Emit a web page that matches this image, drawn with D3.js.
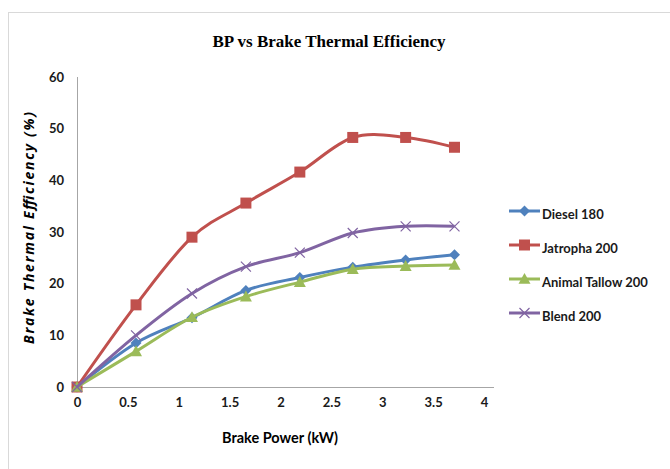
<!DOCTYPE html>
<html>
<head>
<meta charset="utf-8">
<script src="https://cdn.jsdelivr.net/npm/d3@7"></script>
<style>
  body { margin: 0; background: #fff; }
  svg { display: block; }
</style>
</head>
<body>
<script>
// chart data
var brakePower = [0, 0.58, 1.13, 1.66, 2.19, 2.71, 3.23, 3.71];
var diesel = [0, 8.5, 13.4, 18.7, 21.2, 23.2, 24.6, 25.6];
var jatropha = [0, 15.9, 29.0, 35.6, 41.6, 48.3, 48.3, 46.4];
var animalTallow = [0, 6.9, 13.5, 17.5, 20.3, 22.8, 23.4, 23.6];
var blend200 = [0, 10.0, 18.1, 23.3, 26.0, 29.8, 31.1, 31.1];
var seriesNames = ['Diesel 180', 'Jatropha 200', 'Animal Tallow 200', 'Blend 200'];
var xTicks = [0, 0.5, 1, 1.5, 2, 2.5, 3, 3.5, 4];
var yTicks = [0, 10, 20, 30, 40, 50, 60];

var width = 670, height = 469;
var colors = ['#4F81BD', '#C0504D', '#9BBB59', '#8064A2'];
var markers = ['diamond', 'square', 'triangle', 'cross'];
var allSeries = [diesel, jatropha, animalTallow, blend200];

var svg = d3.select('body').append('svg')
  .attr('width', width)
  .attr('height', height);

// chart frame
svg.append('rect')
  .attr('x', 8.5).attr('y', 12.5)
  .attr('width', 700).attr('height', 500)
  .attr('fill', 'none')
  .attr('stroke', '#d9d9d9');

var x = d3.scaleLinear().domain([0, 4]).range([77, 484]);
var y = d3.scaleLinear().domain([0, 60]).range([387, 77]);

var tickFont = 'Lato, "Noto Sans", sans-serif';

// axes
var xAxis = svg.append('g')
  .attr('transform', 'translate(0,' + y(0) + ')')
  .call(d3.axisBottom(x).tickValues(xTicks).tickSize(0).tickPadding(11).tickFormat(d3.format('')));
xAxis.select('.domain').attr('stroke', '#a6a6a6').attr('d', 'M' + x(0) + ',0.5H494');

var yAxis = svg.append('g')
  .attr('transform', 'translate(' + x(0) + ',0)')
  .call(d3.axisLeft(y).tickValues(yTicks).tickSize(0).tickPadding(13));
yAxis.select('.domain').attr('stroke', '#a6a6a6').attr('d', 'M0.5,' + y(0) + 'V' + y(60));

svg.selectAll('.tick text')
  .attr('font-family', tickFont)
  .attr('font-size', 13)
  .attr('font-weight', 'bold')
  .attr('fill', '#1a1a1a');

// smoothed lines like the spreadsheet
var line = d3.line()
  .x(function(d) { return x(d[0]); })
  .y(function(d) { return y(d[1]); })
  .curve(d3.curveCardinal.tension(0));

function markerPath(type, s) {
  if (type === 'diamond') return 'M0,' + (-s) + 'L' + s + ',0L0,' + s + 'L' + (-s) + ',0Z';
  if (type === 'square') return 'M' + (-s) + ',' + (-s) + 'H' + s + 'V' + s + 'H' + (-s) + 'Z';
  if (type === 'triangle') return 'M0,' + (-s) + 'L' + s + ',' + (s * 0.8) + 'L' + (-s) + ',' + (s * 0.8) + 'Z';
  return 'M' + (-s) + ',' + (-s) + 'L' + s + ',' + s + 'M' + s + ',' + (-s) + 'L' + (-s) + ',' + s;
}
var markerSize = [5.5, 5.5, 6, 5];

allSeries.forEach(function(vals, i) {
  var pts = brakePower.map(function(bp, j) { return [bp, vals[j]]; });
  svg.append('path')
    .datum(pts)
    .attr('d', line)
    .attr('fill', 'none')
    .attr('stroke', colors[i])
    .attr('stroke-width', 3);

  svg.selectAll('.m' + i)
    .data(pts)
    .enter().append('path')
    .attr('class', 'm' + i)
    .attr('transform', function(d) { return 'translate(' + x(d[0]) + ',' + y(d[1]) + ')'; })
    .attr('d', markerPath(markers[i], markerSize[i]))
    .attr('fill', markers[i] === 'cross' ? 'none' : colors[i])
    .attr('stroke', colors[i])
    .attr('stroke-width', markers[i] === 'cross' ? 1.2 : 0);
});

// legend
var legendY = [211, 245, 279, 313];
seriesNames.forEach(function(name, i) {
  var g = svg.append('g').attr('transform', 'translate(0,' + legendY[i] + ')');
  g.append('line')
    .attr('x1', 509).attr('x2', 540)
    .attr('stroke', colors[i]).attr('stroke-width', 3);
  g.append('path')
    .attr('transform', 'translate(524.5,0)')
    .attr('d', markerPath(markers[i], markerSize[i]))
    .attr('fill', markers[i] === 'cross' ? 'none' : colors[i])
    .attr('stroke', colors[i])
    .attr('stroke-width', markers[i] === 'cross' ? 1.2 : 0);
  g.append('text')
    .attr('x', 542).attr('y', 8)
    .attr('font-family', tickFont)
    .attr('font-size', 13)
    .attr('font-weight', 'bold')
    .attr('fill', '#1a1a1a')
    .text(name);
});

// titles
svg.append('text')
  .attr('x', 329).attr('y', 47)
  .attr('text-anchor', 'middle')
  .attr('font-family', '"Liberation Serif", serif')
  .attr('font-weight', 'bold')
  .attr('font-size', 17)
  .text('BP vs Brake Thermal Efficiency');

svg.append('text')
  .attr('x', 280).attr('y', 443)
  .attr('text-anchor', 'middle')
  .attr('font-family', tickFont)
  .attr('font-weight', 'bold')
  .attr('font-size', 14.5)
  .text('Brake Power (kW)');

svg.append('text')
  .attr('transform', 'translate(34,228) rotate(-90)')
  .attr('text-anchor', 'middle')
  .attr('font-family', '"Open Sans", sans-serif')
  .attr('font-weight', 'bold')
  .attr('font-style', 'italic')
  .attr('font-size', 14)
  .attr('textLength', 232)
  .attr('lengthAdjust', 'spacing')
  .text('Brake Thermal Efficiency (%)');
</script>
</body>
</html>
